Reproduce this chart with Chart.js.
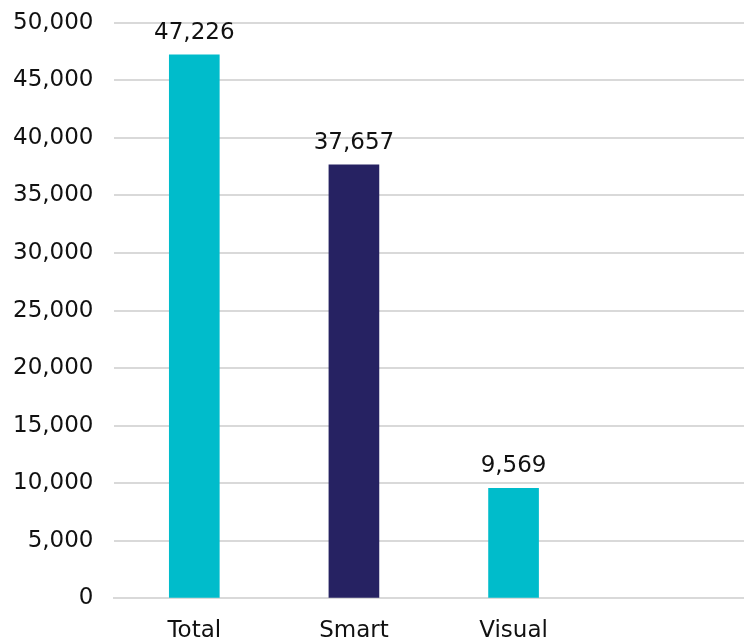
<!DOCTYPE html>
<html>
<head>
<meta charset="utf-8">
<script src="https://cdn.jsdelivr.net/npm/chart.js@4"></script>
<style>
  html, body { margin: 0; padding: 0; background: #fff; }
  body { width: 744px; height: 638px; overflow: hidden; position: relative; }
  #wrap { position: absolute; left: -8px; top: -12px; width: 761px; height: 676px; }
</style>
</head>
<body>
<div id="wrap"><canvas id="myChart"></canvas></div>
<script>
const categories = ['Total', 'Smart', 'Visual', ''];
const values = [47226, 37657, 9569, null];
const barColors = ['#00BCCB', '#262262', '#00BCCB', '#00BCCB'];
const yTicks = [0, 5000, 10000, 15000, 20000, 25000, 30000, 35000, 40000, 45000, 50000];

const fontFamily = '"DejaVu Sans", Verdana, sans-serif';

// draws the value above each bar
const valueLabels = {
    id: 'valueLabels',
    afterDatasetsDraw(chart) {
        const ctx = chart.ctx;
        const meta = chart.getDatasetMeta(0);
        ctx.save();
        ctx.font = '23px ' + fontFamily;
        ctx.fillStyle = '#111';
        ctx.textAlign = 'center';
        ctx.textBaseline = 'alphabetic';
        meta.data.forEach((bar, i) => {
            if (values[i] == null) return;
            ctx.fillText(values[i].toLocaleString('en-US'), bar.x, bar.y - 16);
        });
        ctx.restore();
    }
};

document.addEventListener('DOMContentLoaded', function () {
    const ctx = document.getElementById('myChart');

    new Chart(ctx, {
        type: 'bar',
        data: {
            labels: categories,
            datasets: [{
                data: values,
                backgroundColor: barColors,
                barThickness: 50
            }]
        },
        options: {
            responsive: true,
            maintainAspectRatio: false,
            animation: false,
            layout: { padding: 0 },
            plugins: {
                legend: { display: false },
                tooltip: { enabled: false }
            },
            scales: {
                x: {
                    grid: { display: false, drawTicks: false },
                    border: { color: '#d9d9d9', width: 2 },
                    ticks: {
                        color: '#111',
                        padding: 19,
                        font: { family: fontFamily, size: 23 }
                    }
                },
                y: {
                    min: 0,
                    max: 50000,
                    afterBuildTicks(axis) {
                        axis.ticks = yTicks.map(v => ({ value: v }));
                    },
                    grid: { color: '#d9d9d9', lineWidth: 2, drawTicks: false },
                    border: { display: false },
                    ticks: {
                        color: '#111',
                        padding: 21,
                        font: { family: fontFamily, size: 23 },
                        callback: v => v.toLocaleString('en-US')
                    }
                }
            }
        },
        plugins: [valueLabels]
    });
});
</script>
</body>
</html>
